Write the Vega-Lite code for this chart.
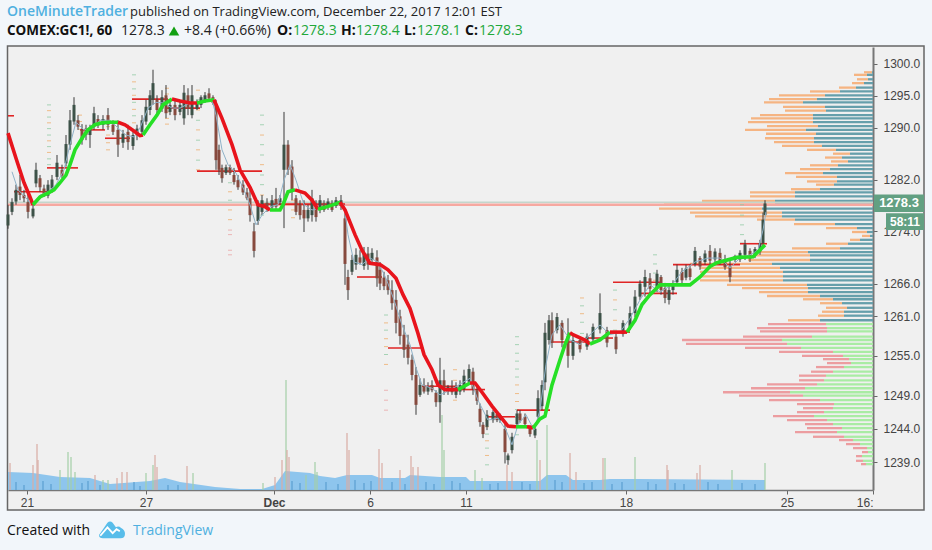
{
"$schema":"https://vega.github.io/schema/vega-lite/v6.json",
"width":865,"height":443,
"autosize":{"type":"none"},
"padding":{"left":8,"top":47,"right":59,"bottom":60},
"background":"#f0f0f0",
"config":{"view":{"stroke":null},"font":"Liberation Sans"},
"datasets":{
"one":[{"k":1}],
"levels":[{"x":8,"x2":873,"p":1278.5,"c":"g"},{"x":8,"x2":873,"p":1278.1,"c":"r"}],
"candles":[
{"x":8,"h":1278.1,"l":1274.4,"o":1274.9,"c":1276.6},{"x":12,"h":1279.1,"l":1276.5,"o":1277.0,"c":1278.5},{"x":16,"h":1281.2,"l":1278.1,"o":1278.6,"c":1280.4},{"x":20,"h":1282.7,"l":1278.8,"o":1280.9,"c":1279.6},{"x":24,"h":1280.4,"l":1278.5,"o":1279.6,"c":1279.1},{"x":28,"h":1280.1,"l":1276.0,"o":1278.5,"c":1277.0},{"x":33,"h":1278.1,"l":1276.0,"o":1276.3,"c":1277.5},{"x":36,"h":1284.6,"l":1280.8,"o":1281.4,"c":1283.5},{"x":40,"h":1282.7,"l":1280.1,"o":1282.2,"c":1280.8},{"x":44,"h":1281.2,"l":1279.3,"o":1280.6,"c":1279.6},{"x":48,"h":1281.9,"l":1279.1,"o":1279.5,"c":1281.2},{"x":52,"h":1282.7,"l":1280.1,"o":1280.6,"c":1282.0},{"x":57,"h":1285.8,"l":1281.9,"o":1282.4,"c":1284.6},{"x":62,"h":1284.3,"l":1282.2,"o":1283.5,"c":1282.6},{"x":66,"h":1288.9,"l":1284.0,"o":1284.5,"c":1287.5},{"x":70,"h":1292.8,"l":1286.6,"o":1287.4,"c":1291.2},{"x":74,"h":1294.8,"l":1290.5,"o":1291.0,"c":1293.6},{"x":78,"h":1292.0,"l":1289.7,"o":1291.2,"c":1290.2},{"x":82,"h":1290.6,"l":1287.4,"o":1289.7,"c":1288.1},{"x":86,"h":1290.5,"l":1288.1,"o":1289.9,"c":1288.9},{"x":90,"h":1290.5,"l":1286.9,"o":1288.9,"c":1289.9},{"x":94,"h":1293.3,"l":1289.7,"o":1290.2,"c":1292.3},{"x":98,"h":1292.0,"l":1290.0,"o":1291.4,"c":1290.4},{"x":103,"h":1292.0,"l":1289.7,"o":1290.5,"c":1291.4},{"x":108,"h":1293.1,"l":1289.7,"o":1292.0,"c":1290.5},{"x":113,"h":1291.2,"l":1288.9,"o":1290.5,"c":1289.4},{"x":118,"h":1291.2,"l":1285.5,"o":1289.7,"c":1287.4},{"x":123,"h":1289.7,"l":1286.9,"o":1287.7,"c":1289.1},{"x":128,"h":1290.5,"l":1286.6,"o":1289.4,"c":1287.8},{"x":133,"h":1289.7,"l":1286.6,"o":1287.2,"c":1288.9},{"x":137,"h":1290.5,"l":1288.1,"o":1288.9,"c":1289.9},{"x":142,"h":1292.0,"l":1288.9,"o":1289.4,"c":1291.2},{"x":146,"h":1294.4,"l":1290.5,"o":1291.0,"c":1293.3},{"x":150,"h":1295.9,"l":1292.0,"o":1292.8,"c":1295.1},{"x":153,"h":1299.1,"l":1293.6,"o":1294.4,"c":1297.0},{"x":157,"h":1295.1,"l":1292.0,"o":1294.4,"c":1292.8},{"x":162,"h":1295.9,"l":1292.5,"o":1293.0,"c":1294.8},{"x":166,"h":1296.7,"l":1291.5,"o":1295.1,"c":1292.3},{"x":170,"h":1294.4,"l":1292.0,"o":1292.5,"c":1293.6},{"x":175,"h":1294.4,"l":1291.2,"o":1293.6,"c":1292.0},{"x":180,"h":1294.4,"l":1292.0,"o":1292.5,"c":1293.6},{"x":184,"h":1296.7,"l":1290.5,"o":1291.5,"c":1295.5},{"x":188,"h":1296.2,"l":1292.0,"o":1295.1,"c":1293.0},{"x":192,"h":1296.7,"l":1291.5,"o":1292.0,"c":1295.1},{"x":197,"h":1294.4,"l":1292.8,"o":1293.0,"c":1294.0},{"x":201,"h":1295.1,"l":1293.1,"o":1293.6,"c":1294.8},{"x":205,"h":1295.6,"l":1293.9,"o":1294.2,"c":1295.1},{"x":209,"h":1296.2,"l":1294.4,"o":1295.4,"c":1294.6},{"x":213,"h":1295.1,"l":1293.6,"o":1294.8,"c":1293.9},{"x":216,"h":1294.4,"l":1283.5,"o":1293.6,"c":1285.0},{"x":219,"h":1287.4,"l":1282.7,"o":1286.6,"c":1283.5},{"x":222,"h":1284.3,"l":1281.5,"o":1283.8,"c":1282.2},{"x":226,"h":1284.3,"l":1282.7,"o":1283.0,"c":1283.9},{"x":230,"h":1284.3,"l":1282.7,"o":1283.9,"c":1283.0},{"x":234,"h":1283.8,"l":1281.2,"o":1282.7,"c":1281.6},{"x":238,"h":1282.7,"l":1280.4,"o":1281.9,"c":1280.8},{"x":243,"h":1281.9,"l":1279.6,"o":1281.2,"c":1280.0},{"x":247,"h":1280.7,"l":1278.8,"o":1280.0,"c":1279.1},{"x":250,"h":1280.4,"l":1275.5,"o":1279.1,"c":1276.5},{"x":254,"h":1275.3,"l":1270.0,"o":1274.0,"c":1271.0},{"x":258,"h":1278.8,"l":1275.0,"o":1275.6,"c":1278.1},{"x":262,"h":1279.6,"l":1276.5,"o":1277.0,"c":1278.8},{"x":267,"h":1279.1,"l":1277.0,"o":1278.4,"c":1277.4},{"x":272,"h":1279.6,"l":1277.3,"o":1277.7,"c":1278.8},{"x":276,"h":1280.7,"l":1277.3,"o":1279.0,"c":1277.8},{"x":280,"h":1279.6,"l":1278.1,"o":1278.5,"c":1279.1},{"x":284,"h":1292.5,"l":1274.5,"o":1283.5,"c":1287.4},{"x":288,"h":1288.1,"l":1282.7,"o":1287.4,"c":1283.5},{"x":292,"h":1285.0,"l":1278.8,"o":1284.0,"c":1280.4},{"x":296,"h":1279.6,"l":1276.5,"o":1279.1,"c":1277.0},{"x":300,"h":1278.8,"l":1275.8,"o":1278.1,"c":1276.5},{"x":304,"h":1278.8,"l":1273.9,"o":1277.3,"c":1276.0},{"x":308,"h":1278.1,"l":1275.5,"o":1276.0,"c":1277.3},{"x":312,"h":1280.4,"l":1275.5,"o":1276.5,"c":1279.1},{"x":316,"h":1278.8,"l":1275.5,"o":1277.7,"c":1276.2},{"x":320,"h":1279.6,"l":1276.8,"o":1277.3,"c":1278.8},{"x":324,"h":1278.8,"l":1277.0,"o":1278.3,"c":1277.3},{"x":328,"h":1279.1,"l":1277.3,"o":1277.7,"c":1278.6},{"x":332,"h":1278.8,"l":1277.0,"o":1278.1,"c":1277.3},{"x":336,"h":1279.3,"l":1277.6,"o":1277.9,"c":1278.8},{"x":341,"h":1279.6,"l":1277.3,"o":1277.9,"c":1278.8},{"x":345,"h":1276.8,"l":1265.8,"o":1276.0,"c":1269.0},{"x":348,"h":1268.1,"l":1263.5,"o":1267.0,"c":1265.0},{"x":352,"h":1270.4,"l":1267.3,"o":1267.8,"c":1269.6},{"x":356,"h":1271.4,"l":1268.1,"o":1268.9,"c":1270.4},{"x":360,"h":1271.1,"l":1268.9,"o":1270.0,"c":1269.2},{"x":364,"h":1271.6,"l":1268.1,"o":1268.7,"c":1270.6},{"x":368,"h":1271.6,"l":1268.1,"o":1270.6,"c":1268.9},{"x":372,"h":1271.4,"l":1269.3,"o":1269.6,"c":1270.7},{"x":377,"h":1271.1,"l":1265.5,"o":1270.0,"c":1266.8},{"x":380,"h":1269.3,"l":1265.0,"o":1268.1,"c":1266.0},{"x":384,"h":1267.8,"l":1265.0,"o":1266.9,"c":1265.6},{"x":388,"h":1267.3,"l":1264.3,"o":1266.5,"c":1265.0},{"x":392,"h":1266.5,"l":1262.0,"o":1265.0,"c":1263.0},{"x":396,"h":1265.0,"l":1258.4,"o":1263.5,"c":1260.0},{"x":400,"h":1262.0,"l":1256.7,"o":1261.0,"c":1258.0},{"x":404,"h":1259.7,"l":1254.7,"o":1258.2,"c":1255.9},{"x":408,"h":1258.2,"l":1253.7,"o":1256.7,"c":1254.7},{"x":412,"h":1255.2,"l":1251.3,"o":1254.4,"c":1252.1},{"x":416,"h":1253.3,"l":1246.1,"o":1252.1,"c":1247.6},{"x":420,"h":1251.6,"l":1248.8,"o":1249.1,"c":1250.6},{"x":424,"h":1251.6,"l":1249.3,"o":1250.6,"c":1249.6},{"x":428,"h":1251.0,"l":1249.1,"o":1249.6,"c":1250.3},{"x":432,"h":1251.3,"l":1249.5,"o":1250.6,"c":1249.8},{"x":436,"h":1249.8,"l":1247.3,"o":1249.4,"c":1248.0},{"x":440,"h":1254.7,"l":1244.9,"o":1248.0,"c":1251.3},{"x":444,"h":1252.9,"l":1249.1,"o":1251.3,"c":1249.8},{"x":448,"h":1250.6,"l":1249.1,"o":1249.6,"c":1250.3},{"x":452,"h":1251.3,"l":1249.1,"o":1250.3,"c":1249.5},{"x":456,"h":1251.0,"l":1248.6,"o":1249.1,"c":1250.4},{"x":460,"h":1251.3,"l":1249.1,"o":1249.6,"c":1250.6},{"x":464,"h":1252.9,"l":1249.5,"o":1250.0,"c":1252.0},{"x":469,"h":1253.7,"l":1250.6,"o":1251.1,"c":1253.0},{"x":473,"h":1253.2,"l":1249.1,"o":1252.6,"c":1250.0},{"x":477,"h":1250.3,"l":1247.6,"o":1249.8,"c":1248.2},{"x":480,"h":1247.8,"l":1244.3,"o":1247.0,"c":1245.0},{"x":483,"h":1245.0,"l":1242.6,"o":1244.6,"c":1243.2},{"x":487,"h":1246.8,"l":1243.8,"o":1244.3,"c":1246.1},{"x":493,"h":1246.8,"l":1244.9,"o":1245.3,"c":1246.5},{"x":497,"h":1246.5,"l":1245.0,"o":1246.2,"c":1245.3},{"x":500,"h":1246.3,"l":1244.9,"o":1245.3,"c":1246.0},{"x":505,"h":1244.9,"l":1238.8,"o":1244.0,"c":1240.5},{"x":508,"h":1240.3,"l":1238.6,"o":1239.3,"c":1240.0},{"x":512,"h":1243.4,"l":1240.3,"o":1240.8,"c":1242.8},{"x":517,"h":1246.8,"l":1244.3,"o":1244.7,"c":1246.3},{"x":520,"h":1246.8,"l":1244.9,"o":1246.3,"c":1245.3},{"x":525,"h":1246.3,"l":1244.3,"o":1245.8,"c":1244.7},{"x":530,"h":1244.3,"l":1242.8,"o":1244.0,"c":1243.2},{"x":535,"h":1244.3,"l":1242.6,"o":1243.0,"c":1244.0},{"x":538,"h":1249.8,"l":1245.3,"o":1245.8,"c":1248.6},{"x":542,"h":1251.3,"l":1246.8,"o":1247.4,"c":1250.6},{"x":545,"h":1260.0,"l":1249.8,"o":1251.0,"c":1258.5},{"x":549,"h":1261.2,"l":1256.7,"o":1257.4,"c":1260.4},{"x":552,"h":1261.6,"l":1256.2,"o":1260.4,"c":1257.0},{"x":557,"h":1261.5,"l":1258.4,"o":1258.9,"c":1260.9},{"x":562,"h":1260.4,"l":1256.3,"o":1260.0,"c":1257.4},{"x":568,"h":1260.7,"l":1253.2,"o":1258.0,"c":1255.0},{"x":573,"h":1258.4,"l":1254.4,"o":1255.0,"c":1257.4},{"x":580,"h":1257.9,"l":1255.5,"o":1257.4,"c":1256.0},{"x":587,"h":1258.4,"l":1255.9,"o":1256.4,"c":1257.9},{"x":593,"h":1259.9,"l":1257.0,"o":1257.5,"c":1259.4},{"x":600,"h":1264.5,"l":1258.4,"o":1259.0,"c":1261.5},{"x":607,"h":1259.4,"l":1256.3,"o":1258.9,"c":1257.0},{"x":616,"h":1258.4,"l":1255.3,"o":1257.9,"c":1256.0},{"x":623,"h":1260.4,"l":1257.9,"o":1258.3,"c":1260.0},{"x":630,"h":1262.5,"l":1258.9,"o":1259.4,"c":1261.5},{"x":635,"h":1265.0,"l":1260.9,"o":1261.5,"c":1264.0},{"x":640,"h":1266.5,"l":1263.5,"o":1264.0,"c":1266.0},{"x":645,"h":1268.1,"l":1264.0,"o":1265.5,"c":1267.0},{"x":650,"h":1267.6,"l":1264.3,"o":1266.8,"c":1265.2},{"x":657,"h":1268.1,"l":1264.7,"o":1265.3,"c":1267.5},{"x":661,"h":1267.3,"l":1264.3,"o":1267.0,"c":1265.0},{"x":665,"h":1266.1,"l":1263.0,"o":1265.3,"c":1263.8},{"x":669,"h":1265.8,"l":1262.8,"o":1263.5,"c":1265.0},{"x":673,"h":1266.5,"l":1264.3,"o":1265.0,"c":1266.0},{"x":677,"h":1268.9,"l":1265.8,"o":1266.2,"c":1268.1},{"x":682,"h":1268.4,"l":1265.8,"o":1267.8,"c":1266.5},{"x":686,"h":1268.9,"l":1266.5,"o":1266.9,"c":1268.3},{"x":690,"h":1268.9,"l":1266.5,"o":1268.3,"c":1267.0},{"x":695,"h":1271.6,"l":1268.6,"o":1269.0,"c":1271.0},{"x":700,"h":1270.2,"l":1268.1,"o":1269.9,"c":1268.6},{"x":705,"h":1271.1,"l":1268.9,"o":1269.3,"c":1270.6},{"x":710,"h":1271.9,"l":1268.9,"o":1271.0,"c":1269.5},{"x":715,"h":1271.4,"l":1269.3,"o":1269.7,"c":1270.9},{"x":720,"h":1271.4,"l":1268.9,"o":1270.7,"c":1269.4},{"x":725,"h":1270.4,"l":1268.1,"o":1269.5,"c":1268.5},{"x":730,"h":1269.6,"l":1266.2,"o":1268.5,"c":1267.0},{"x":735,"h":1270.4,"l":1269.3,"o":1269.6,"c":1270.2},{"x":740,"h":1271.1,"l":1269.3,"o":1269.7,"c":1270.7},{"x":745,"h":1272.7,"l":1269.6,"o":1270.4,"c":1272.0},{"x":750,"h":1271.4,"l":1269.3,"o":1271.0,"c":1269.8},{"x":755,"h":1271.6,"l":1269.9,"o":1270.3,"c":1271.3},{"x":760,"h":1272.7,"l":1270.4,"o":1270.9,"c":1272.2},{"x":763,"h":1276.9,"l":1271.6,"o":1272.2,"c":1275.8},{"x":765,"h":1278.8,"l":1276.5,"o":1276.5,"c":1278.3}
],
"trend":[
{"seg":1,"trend":"down","x":8,"p":1289.2},{"seg":1,"trend":"down","x":16,"p":1285.3},{"seg":1,"trend":"down","x":24,"p":1281.5},{"seg":1,"trend":"down","x":30,"p":1279.3},{"seg":1,"trend":"down","x":33,"p":1278.1},
{"seg":2,"trend":"up","x":33,"p":1278.1},{"seg":2,"trend":"up","x":40,"p":1279.3},{"seg":2,"trend":"up","x":48,"p":1279.9},{"seg":2,"trend":"up","x":54,"p":1280.4},{"seg":2,"trend":"up","x":60,"p":1281.5},{"seg":2,"trend":"up","x":66,"p":1282.7},{"seg":2,"trend":"up","x":70,"p":1284.3},{"seg":2,"trend":"up","x":75,"p":1286.6},{"seg":2,"trend":"up","x":82,"p":1288.4},{"seg":2,"trend":"up","x":88,"p":1289.7},{"seg":2,"trend":"up","x":95,"p":1290.5},{"seg":2,"trend":"up","x":102,"p":1290.8},{"seg":2,"trend":"up","x":110,"p":1290.9},{"seg":2,"trend":"up","x":118,"p":1290.9},
{"seg":3,"trend":"down","x":118,"p":1290.9},{"seg":3,"trend":"down","x":125,"p":1290.5},{"seg":3,"trend":"down","x":135,"p":1289.4},{"seg":3,"trend":"down","x":140,"p":1288.8},{"seg":3,"trend":"down","x":143,"p":1288.9},
{"seg":4,"trend":"up","x":143,"p":1288.9},{"seg":4,"trend":"up","x":150,"p":1290.5},{"seg":4,"trend":"up","x":157,"p":1292.0},{"seg":4,"trend":"up","x":163,"p":1293.6},{"seg":4,"trend":"up","x":172,"p":1294.5},
{"seg":5,"trend":"down","x":172,"p":1294.5},{"seg":5,"trend":"down","x":180,"p":1294.2},{"seg":5,"trend":"down","x":190,"p":1293.9},{"seg":5,"trend":"down","x":197,"p":1293.9},
{"seg":6,"trend":"up","x":197,"p":1293.9},{"seg":6,"trend":"up","x":205,"p":1294.2},{"seg":6,"trend":"up","x":214,"p":1294.4},
{"seg":7,"trend":"down","x":214,"p":1294.4},{"seg":7,"trend":"down","x":222,"p":1291.5},{"seg":7,"trend":"down","x":232,"p":1287.4},{"seg":7,"trend":"down","x":240,"p":1283.5},{"seg":7,"trend":"down","x":250,"p":1280.8},{"seg":7,"trend":"down","x":258,"p":1278.1},{"seg":7,"trend":"down","x":265,"p":1277.8},{"seg":7,"trend":"down","x":270,"p":1277.3},
{"seg":8,"trend":"up","x":270,"p":1277.3},{"seg":8,"trend":"up","x":280,"p":1277.3},{"seg":8,"trend":"up","x":283,"p":1278.1},{"seg":8,"trend":"up","x":288,"p":1280.1},{"seg":8,"trend":"up","x":295,"p":1280.4},
{"seg":9,"trend":"down","x":295,"p":1280.4},{"seg":9,"trend":"down","x":305,"p":1279.9},{"seg":9,"trend":"down","x":312,"p":1278.8},{"seg":9,"trend":"down","x":318,"p":1277.4},
{"seg":10,"trend":"up","x":318,"p":1277.4},{"seg":10,"trend":"up","x":325,"p":1277.7},{"seg":10,"trend":"up","x":335,"p":1278.2},{"seg":10,"trend":"up","x":340,"p":1278.5},
{"seg":11,"trend":"down","x":340,"p":1278.5},{"seg":11,"trend":"down","x":345,"p":1277.3},{"seg":11,"trend":"down","x":355,"p":1273.5},{"seg":11,"trend":"down","x":362,"p":1271.1},{"seg":11,"trend":"down","x":370,"p":1269.1},{"seg":11,"trend":"down","x":380,"p":1268.9},{"seg":11,"trend":"down","x":388,"p":1268.1},{"seg":11,"trend":"down","x":396,"p":1266.8},{"seg":11,"trend":"down","x":403,"p":1264.3},{"seg":11,"trend":"down","x":410,"p":1262.2},{"seg":11,"trend":"down","x":418,"p":1258.4},{"seg":11,"trend":"down","x":424,"p":1255.2},{"seg":11,"trend":"down","x":432,"p":1252.9},{"seg":11,"trend":"down","x":438,"p":1250.6},{"seg":11,"trend":"down","x":445,"p":1249.9},{"seg":11,"trend":"down","x":458,"p":1249.9},
{"seg":12,"trend":"up","x":458,"p":1249.9},{"seg":12,"trend":"up","x":470,"p":1250.9},
{"seg":13,"trend":"down","x":470,"p":1250.9},{"seg":13,"trend":"down","x":475,"p":1250.9},{"seg":13,"trend":"down","x":482,"p":1249.5},{"seg":13,"trend":"down","x":492,"p":1247.4},{"seg":13,"trend":"down","x":500,"p":1245.9},{"seg":13,"trend":"down","x":508,"p":1244.4},{"seg":13,"trend":"down","x":516,"p":1244.3},
{"seg":14,"trend":"up","x":516,"p":1244.3},{"seg":14,"trend":"up","x":527,"p":1244.3},
{"seg":15,"trend":"down","x":527,"p":1244.3},{"seg":15,"trend":"down","x":533,"p":1244.1},
{"seg":16,"trend":"up","x":533,"p":1244.1},{"seg":16,"trend":"up","x":540,"p":1245.5},{"seg":16,"trend":"up","x":545,"p":1245.9},{"seg":16,"trend":"up","x":552,"p":1250.6},{"seg":16,"trend":"up","x":560,"p":1254.4},{"seg":16,"trend":"up","x":565,"p":1256.7},{"seg":16,"trend":"up","x":570,"p":1258.5},
{"seg":17,"trend":"down","x":570,"p":1258.5},{"seg":17,"trend":"down","x":573,"p":1258.2},{"seg":17,"trend":"down","x":585,"p":1257.4},{"seg":17,"trend":"down","x":590,"p":1256.8},
{"seg":18,"trend":"up","x":590,"p":1256.8},{"seg":18,"trend":"up","x":600,"p":1257.4},{"seg":18,"trend":"up","x":610,"p":1258.6},
{"seg":19,"trend":"down","x":610,"p":1258.6},{"seg":19,"trend":"down","x":627,"p":1258.6},
{"seg":20,"trend":"up","x":627,"p":1258.6},{"seg":20,"trend":"up","x":635,"p":1260.4},{"seg":20,"trend":"up","x":642,"p":1262.8},{"seg":20,"trend":"up","x":650,"p":1264.3},{"seg":20,"trend":"up","x":660,"p":1265.8},{"seg":20,"trend":"up","x":690,"p":1265.8},{"seg":20,"trend":"up","x":700,"p":1267.0},{"seg":20,"trend":"up","x":710,"p":1268.6},{"seg":20,"trend":"up","x":717,"p":1269.2},{"seg":20,"trend":"up","x":737,"p":1270.0},{"seg":20,"trend":"up","x":753,"p":1270.1},{"seg":20,"trend":"up","x":765,"p":1271.9}
],
"ma":[
{"x":12,"p":1283.2},{"x":18,"p":1280.4},{"x":24,"p":1279.5},{"x":32,"p":1278.1},{"x":40,"p":1279.6},{"x":48,"p":1280.1},{"x":56,"p":1281.2},{"x":64,"p":1283.5},{"x":70,"p":1287.4},{"x":76,"p":1290.9},{"x":84,"p":1289.7},{"x":92,"p":1290.0},{"x":100,"p":1291.2},{"x":110,"p":1291.2},{"x":118,"p":1290.0},{"x":126,"p":1288.9},{"x":134,"p":1288.6},{"x":140,"p":1290.0},{"x":148,"p":1293.1},{"x":156,"p":1294.0},{"x":164,"p":1293.9},{"x":172,"p":1293.1},{"x":180,"p":1293.1},{"x":190,"p":1293.9},{"x":200,"p":1293.9},{"x":212,"p":1294.4},{"x":216,"p":1292.0},{"x":222,"p":1286.6},{"x":228,"p":1284.3},{"x":236,"p":1283.0},{"x":244,"p":1280.4},{"x":250,"p":1278.1},{"x":256,"p":1275.0},{"x":262,"p":1276.5},{"x":270,"p":1277.8},{"x":278,"p":1278.1},{"x":284,"p":1281.9},{"x":290,"p":1284.3},{"x":296,"p":1281.9},{"x":304,"p":1278.1},{"x":312,"p":1277.3},{"x":322,"p":1277.6},{"x":335,"p":1278.2},{"x":344,"p":1278.1},{"x":348,"p":1273.5},{"x":354,"p":1269.3},{"x":362,"p":1268.9},{"x":370,"p":1269.9},{"x":378,"p":1269.3},{"x":386,"p":1266.8},{"x":394,"p":1263.5},{"x":402,"p":1259.7},{"x":410,"p":1256.7},{"x":416,"p":1253.2},{"x":422,"p":1250.6},{"x":432,"p":1250.1},{"x":440,"p":1249.1},{"x":450,"p":1249.8},{"x":462,"p":1250.9},{"x":470,"p":1251.6},{"x":478,"p":1248.3},{"x":488,"p":1245.3},{"x":498,"p":1245.6},{"x":506,"p":1243.8},{"x":512,"p":1241.6},{"x":518,"p":1244.6},{"x":526,"p":1246.1},{"x":534,"p":1243.8},{"x":540,"p":1246.8},{"x":546,"p":1253.7},{"x":552,"p":1258.2},{"x":560,"p":1259.7},{"x":570,"p":1257.4},{"x":580,"p":1256.7},{"x":590,"p":1258.2},{"x":600,"p":1259.7},{"x":610,"p":1258.2},{"x":620,"p":1258.6},{"x":630,"p":1260.7},{"x":640,"p":1263.5},{"x":650,"p":1265.8},{"x":660,"p":1264.7},{"x":672,"p":1265.8},{"x":682,"p":1267.8},{"x":695,"p":1269.3},{"x":708,"p":1269.9},{"x":720,"p":1269.9},{"x":730,"p":1268.4},{"x":740,"p":1269.9},{"x":750,"p":1270.4},{"x":758,"p":1271.1},{"x":763,"p":1274.2},{"x":766,"p":1277.0}
],
"poc":[
{"x":8,"x2":14,"p":1291.9},{"x":14,"x2":53,"p":1280.1},{"x":47,"x2":78,"p":1283.8},{"x":80,"x2":105,"p":1289.7},{"x":105,"x2":130,"p":1288.4},{"x":132,"x2":168,"p":1294.5},{"x":165,"x2":200,"p":1293.1},{"x":197,"x2":262,"p":1283.3},{"x":262,"x2":345,"p":1278.2},{"x":357,"x2":382,"p":1267.0},{"x":388,"x2":422,"p":1256.2},{"x":422,"x2":457,"p":1250.4},{"x":457,"x2":485,"p":1249.9},{"x":487,"x2":515,"p":1245.8},{"x":517,"x2":550,"p":1246.8},{"x":513,"x2":533,"p":1244.4},{"x":550,"x2":587,"p":1257.1},{"x":587,"x2":613,"p":1257.7},{"x":610,"x2":630,"p":1258.6},{"x":613,"x2":662,"p":1266.2},{"x":640,"x2":677,"p":1264.5},{"x":673,"x2":740,"p":1268.9},{"x":740,"x2":767,"p":1272.1}
],
"profile":[
{"p":1298.7,"a":864,"b":872},{"p":1298.3,"a":854,"b":867},{"p":1297.6,"a":857,"b":868},{"p":1297.0,"a":852,"b":864},{"p":1296.3,"a":839,"b":856},{"p":1295.7,"a":810,"b":840},{"p":1295.1,"a":779,"b":825},{"p":1294.5,"a":769,"b":817},{"p":1294.0,"a":764,"b":803},{"p":1293.3,"a":783,"b":825},{"p":1292.7,"a":785,"b":826},{"p":1292.0,"a":760,"b":813},{"p":1291.5,"a":751,"b":813},{"p":1290.9,"a":748,"b":813},{"p":1290.3,"a":767,"b":818},{"p":1289.7,"a":745,"b":806},{"p":1289.1,"a":766,"b":816},{"p":1288.4,"a":765,"b":814},{"p":1287.8,"a":774,"b":814},{"p":1287.2,"a":782,"b":822},{"p":1286.6,"a":807,"b":836},{"p":1286.0,"a":833,"b":850},{"p":1285.4,"a":825,"b":842},{"p":1284.8,"a":831,"b":848},{"p":1284.2,"a":810,"b":838},{"p":1283.6,"a":800,"b":830},{"p":1283.0,"a":785,"b":823},{"p":1282.4,"a":796,"b":837},{"p":1281.7,"a":807,"b":837},{"p":1281.2,"a":816,"b":834},{"p":1280.5,"a":791,"b":820},{"p":1280.0,"a":750,"b":795},{"p":1279.4,"a":750,"b":795},{"p":1278.7,"a":702,"b":775},{"p":1278.1,"a":664,"b":775},{"p":1277.5,"a":659,"b":762},{"p":1276.9,"a":690,"b":782},{"p":1276.3,"a":695,"b":782},{"p":1275.8,"a":757,"b":795},{"p":1275.1,"a":794,"b":835},{"p":1274.5,"a":826,"b":857},{"p":1273.9,"a":852,"b":867},{"p":1273.3,"a":862,"b":870},{"p":1272.7,"a":850,"b":860},{"p":1272.1,"a":826,"b":848},{"p":1271.4,"a":792,"b":840},{"p":1270.8,"a":755,"b":808},{"p":1270.3,"a":755,"b":810},{"p":1269.6,"a":748,"b":810},{"p":1269.0,"a":690,"b":772},{"p":1268.4,"a":700,"b":780},{"p":1267.8,"a":700,"b":783},{"p":1267.1,"a":700,"b":783},{"p":1266.5,"a":700,"b":783},{"p":1265.8,"a":727,"b":807},{"p":1265.3,"a":742,"b":808},{"p":1264.7,"a":759,"b":808},{"p":1264.1,"a":767,"b":820},{"p":1263.6,"a":803,"b":833},{"p":1263.0,"a":820,"b":842},{"p":1262.3,"a":826,"b":847},{"p":1261.7,"a":822,"b":844},{"p":1261.1,"a":818,"b":844},{"p":1260.4,"a":788,"b":820},{"p":1259.8,"a":768,"b":826},
{"p":1259.2,"a":757,"b":827},{"p":1258.7,"a":760,"b":827},{"p":1257.9,"a":743,"b":812},{"p":1257.4,"a":682,"b":782},{"p":1256.8,"a":686,"b":787},{"p":1256.2,"a":745,"b":801},{"p":1255.6,"a":779,"b":833},{"p":1255.0,"a":802,"b":843},{"p":1254.5,"a":823,"b":849},{"p":1253.9,"a":827,"b":851},{"p":1253.3,"a":816,"b":844},{"p":1252.6,"a":811,"b":833},{"p":1252.0,"a":799,"b":826},{"p":1251.3,"a":799,"b":824},{"p":1250.7,"a":767,"b":817},{"p":1250.1,"a":751,"b":805},{"p":1249.5,"a":723,"b":790},{"p":1249.0,"a":739,"b":803},{"p":1248.3,"a":769,"b":820},{"p":1247.7,"a":797,"b":834},{"p":1247.1,"a":803,"b":833},{"p":1246.5,"a":797,"b":824},{"p":1245.9,"a":773,"b":814},{"p":1245.3,"a":787,"b":827},{"p":1244.7,"a":805,"b":833},{"p":1244.1,"a":807,"b":842},{"p":1243.5,"a":795,"b":837},{"p":1242.8,"a":813,"b":844},{"p":1242.3,"a":839,"b":853},{"p":1241.7,"a":846,"b":860},{"p":1241.1,"a":853,"b":867},{"p":1240.5,"a":862,"b":868},{"p":1239.9,"a":856,"b":862},{"p":1239.2,"a":856,"b":863},{"p":1238.7,"a":861,"b":866}
],
"dashes":[
{"x":49,"p":1293.6,"s":"g"},{"x":49,"p":1292.7,"s":"o"},{"x":49,"p":1291.7,"s":"g"},{"x":49,"p":1290.8,"s":"o"},{"x":49,"p":1289.9,"s":"g"},{"x":49,"p":1288.9,"s":"g"},{"x":49,"p":1288.0,"s":"o"},{"x":49,"p":1287.1,"s":"g"},{"x":49,"p":1286.2,"s":"o"},{"x":49,"p":1285.2,"s":"g"},{"x":49,"p":1284.3,"s":"g"},
{"x":134,"p":1298.3,"s":"g"},{"x":134,"p":1297.2,"s":"o"},{"x":134,"p":1296.1,"s":"g"},{"x":134,"p":1295.1,"s":"o"},{"x":134,"p":1294.0,"s":"g"},{"x":134,"p":1292.9,"s":"o"},{"x":134,"p":1291.9,"s":"g"},{"x":134,"p":1290.8,"s":"o"},
{"x":167,"p":1296.2,"s":"o"},{"x":167,"p":1295.3,"s":"o"},{"x":167,"p":1294.4,"s":"o"},{"x":167,"p":1293.4,"s":"o"},{"x":167,"p":1292.5,"s":"o"},{"x":167,"p":1291.5,"s":"o"},{"x":167,"p":1290.6,"s":"o"},
{"x":198,"p":1295.9,"s":"o"},{"x":198,"p":1294.4,"s":"g"},{"x":198,"p":1292.8,"s":"o"},{"x":198,"p":1291.2,"s":"g"},{"x":198,"p":1289.7,"s":"o"},{"x":198,"p":1288.1,"s":"g"},{"x":198,"p":1286.6,"s":"o"},{"x":198,"p":1285.0,"s":"g"},{"x":198,"p":1283.5,"s":"o"},
{"x":108,"p":1290.2,"s":"o"},{"x":108,"p":1288.9,"s":"o"},{"x":108,"p":1287.7,"s":"o"},{"x":108,"p":1286.6,"s":"o"},{"x":80,"p":1292.0,"s":"o"},{"x":80,"p":1291.0,"s":"o"},{"x":80,"p":1289.8,"s":"o"},
{"x":262,"p":1292.0,"s":"g"},{"x":262,"p":1290.5,"s":"g"},{"x":262,"p":1288.9,"s":"o"},{"x":262,"p":1287.4,"s":"g"},{"x":262,"p":1285.8,"s":"g"},{"x":262,"p":1284.3,"s":"o"},{"x":262,"p":1282.7,"s":"g"},{"x":262,"p":1281.2,"s":"g"},{"x":262,"p":1279.6,"s":"o"},{"x":262,"p":1278.1,"s":"g"},{"x":262,"p":1276.5,"s":"g"},
{"x":230,"p":1281.5,"s":"g"},{"x":230,"p":1280.1,"s":"o"},{"x":230,"p":1278.8,"s":"g"},{"x":230,"p":1277.3,"s":"o"},{"x":230,"p":1275.8,"s":"o"},{"x":230,"p":1274.2,"s":"r"},{"x":230,"p":1273.5,"s":"r"},{"x":230,"p":1271.1,"s":"r"},{"x":230,"p":1270.4,"s":"r"},
{"x":293,"p":1278.8,"s":"o"},{"x":293,"p":1277.3,"s":"o"},{"x":293,"p":1276.1,"s":"o"},
{"x":386,"p":1261.2,"s":"g"},{"x":386,"p":1260.0,"s":"o"},{"x":386,"p":1258.9,"s":"g"},{"x":386,"p":1257.6,"s":"o"},{"x":386,"p":1256.4,"s":"o"},{"x":386,"p":1255.2,"s":"g"},{"x":386,"p":1253.7,"s":"o"},{"x":386,"p":1249.8,"s":"r"},{"x":386,"p":1248.3,"s":"r"},{"x":386,"p":1246.8,"s":"r"},
{"x":455,"p":1252.9,"s":"o"},{"x":455,"p":1251.3,"s":"o"},{"x":455,"p":1249.8,"s":"o"},{"x":455,"p":1248.3,"s":"o"},
{"x":487,"p":1245.3,"s":"o"},{"x":487,"p":1244.3,"s":"o"},{"x":487,"p":1243.2,"s":"g"},{"x":487,"p":1242.2,"s":"o"},{"x":487,"p":1241.1,"s":"g"},{"x":487,"p":1240.0,"s":"o"},{"x":487,"p":1238.6,"s":"g"},
{"x":517,"p":1257.9,"s":"g"},{"x":517,"p":1256.7,"s":"g"},{"x":517,"p":1255.4,"s":"g"},{"x":517,"p":1254.2,"s":"g"},{"x":517,"p":1253.0,"s":"g"},{"x":517,"p":1251.8,"s":"g"},{"x":517,"p":1250.6,"s":"o"},{"x":517,"p":1249.3,"s":"o"},{"x":517,"p":1248.1,"s":"o"},{"x":517,"p":1246.9,"s":"g"},{"x":517,"p":1245.7,"s":"g"},{"x":517,"p":1244.5,"s":"g"},{"x":517,"p":1243.1,"s":"g"},
{"x":582,"p":1263.8,"s":"o"},{"x":582,"p":1262.6,"s":"g"},{"x":582,"p":1261.4,"s":"o"},{"x":582,"p":1260.1,"s":"g"},{"x":582,"p":1258.4,"s":"g"},
{"x":615,"p":1265.0,"s":"g"},{"x":615,"p":1263.5,"s":"o"},{"x":615,"p":1262.0,"s":"g"},{"x":615,"p":1260.4,"s":"o"},{"x":615,"p":1258.9,"s":"g"},
{"x":655,"p":1270.4,"s":"g"},{"x":655,"p":1269.0,"s":"g"},{"x":655,"p":1267.6,"s":"g"},{"x":655,"p":1266.5,"s":"o"},{"x":655,"p":1265.8,"s":"g"},
{"x":742,"p":1278.1,"s":"g"},{"x":742,"p":1276.5,"s":"g"},{"x":742,"p":1275.0,"s":"g"},{"x":742,"p":1273.5,"s":"g"},{"x":742,"p":1272.2,"s":"g"}
],
"average":[
{"x":8,"v":18},{"x":33,"v":17},{"x":60,"v":13},{"x":90,"v":12},{"x":110,"v":6},{"x":150,"v":9},{"x":165,"v":12},{"x":180,"v":8},{"x":215,"v":3},{"x":240,"v":1},{"x":262,"v":1},{"x":275,"v":5},{"x":285,"v":19},{"x":310,"v":17},{"x":320,"v":14},{"x":335,"v":12},{"x":347,"v":15},{"x":372,"v":15},{"x":380,"v":12},{"x":405,"v":12},{"x":410,"v":15},{"x":440,"v":13},{"x":466,"v":13},{"x":470,"v":9},{"x":540,"v":9},{"x":547,"v":15},{"x":566,"v":15},{"x":573,"v":10},{"x":600,"v":10},{"x":610,"v":11},{"x":640,"v":11},{"x":765,"v":10}
],
"volume":[
{"x":10,"v":27,"s":"d"},{"x":33,"v":25,"s":"d"},{"x":37,"v":46,"s":"d"},{"x":38,"v":30,"s":"d"},{"x":60,"v":20,"s":"u"},{"x":68,"v":38,"s":"u"},{"x":71,"v":33,"s":"u"},{"x":75,"v":18,"s":"u"},{"x":95,"v":15,"s":"d"},{"x":103,"v":10,"s":"u"},{"x":108,"v":10,"s":"u"},{"x":117,"v":12,"s":"d"},{"x":122,"v":18,"s":"d"},{"x":127,"v":18,"s":"d"},{"x":146,"v":17,"s":"u"},{"x":153,"v":25,"s":"u"},{"x":155,"v":35,"s":"d"},{"x":157,"v":23,"s":"d"},{"x":187,"v":24,"s":"d"},{"x":193,"v":17,"s":"u"},{"x":263,"v":7,"s":"u"},{"x":275,"v":13,"s":"d"},{"x":282,"v":30,"s":"d"},{"x":286,"v":110,"s":"u"},{"x":287,"v":40,"s":"d"},{"x":289,"v":33,"s":"d"},{"x":306,"v":15,"s":"u"},{"x":315,"v":28,"s":"u"},{"x":317,"v":18,"s":"u"},{"x":347,"v":57,"s":"d"},{"x":349,"v":40,"s":"d"},{"x":379,"v":41,"s":"d"},{"x":382,"v":27,"s":"d"},{"x":400,"v":20,"s":"d"},{"x":411,"v":34,"s":"d"},{"x":413,"v":23,"s":"d"},{"x":418,"v":23,"s":"d"},{"x":442,"v":75,"s":"u"},{"x":444,"v":40,"s":"u"},{"x":475,"v":20,"s":"u"},{"x":482,"v":12,"s":"u"},{"x":507,"v":25,"s":"d"},{"x":512,"v":18,"s":"d"},{"x":537,"v":50,"s":"u"},{"x":540,"v":30,"s":"d"},{"x":547,"v":65,"s":"u"},{"x":570,"v":37,"s":"d"},{"x":576,"v":18,"s":"d"},{"x":603,"v":32,"s":"d"},{"x":605,"v":32,"s":"u"},{"x":635,"v":33,"s":"u"},{"x":667,"v":25,"s":"d"},{"x":668,"v":20,"s":"d"},{"x":697,"v":17,"s":"d"},{"x":700,"v":25,"s":"d"},{"x":732,"v":20,"s":"u"},{"x":765,"v":27,"s":"u"},
{"x":16,"v":8,"s":"l"},{"x":24,"v":5,"s":"l"},{"x":43,"v":9,"s":"l"},{"x":51,"v":6,"s":"l"},{"x":82,"v":7,"s":"l"},{"x":88,"v":9,"s":"l"},{"x":100,"v":5,"s":"l"},{"x":134,"v":8,"s":"l"},{"x":140,"v":4,"s":"l"},{"x":168,"v":5,"s":"l"},{"x":178,"v":5,"s":"l"},{"x":292,"v":9,"s":"l"},{"x":300,"v":7,"s":"l"},{"x":326,"v":8,"s":"l"},{"x":338,"v":6,"s":"l"},{"x":355,"v":10,"s":"l"},{"x":364,"v":7,"s":"l"},{"x":371,"v":9,"s":"l"},{"x":392,"v":8,"s":"l"},{"x":405,"v":6,"s":"l"},{"x":426,"v":8,"s":"l"},{"x":434,"v":6,"s":"l"},{"x":452,"v":9,"s":"l"},{"x":460,"v":7,"s":"l"},{"x":490,"v":6,"s":"l"},{"x":498,"v":7,"s":"l"},{"x":522,"v":8,"s":"l"},{"x":530,"v":6,"s":"l"},{"x":555,"v":10,"s":"l"},{"x":562,"v":8,"s":"l"},{"x":584,"v":7,"s":"l"},{"x":592,"v":8,"s":"l"},{"x":612,"v":6,"s":"l"},{"x":622,"v":8,"s":"l"},{"x":648,"v":8,"s":"l"},{"x":656,"v":6,"s":"l"},{"x":675,"v":7,"s":"l"},{"x":684,"v":6,"s":"l"},{"x":708,"v":8,"s":"l"},{"x":718,"v":6,"s":"l"},{"x":742,"v":7,"s":"l"},{"x":755,"v":6,"s":"l"}
]
},
"layer":[
{"layer":[
{"data":{"name":"one"},"mark":{"type":"rect","fill":"#f2f6fa"},"encoding":{"x":{"datum":-5},"x2":{"datum":940},"y":{"datum":1320},"y2":{"datum":1302.83}}},
{"data":{"name":"one"},"mark":{"type":"rect","fill":"#f2f6fa"},"encoding":{"x":{"datum":-5},"x2":{"datum":940},"y":{"datum":1231.87},"y2":{"datum":1215}}},
{"data":{"name":"one"},"mark":{"type":"rect","fill":"#f2f6fa"},"encoding":{"x":{"datum":-5},"x2":{"datum":7.5},"y":{"datum":1320},"y2":{"datum":1215}}},
{"data":{"name":"one"},"mark":{"type":"rect","fill":"#f2f6fa"},"encoding":{"x":{"datum":924},"x2":{"datum":940},"y":{"datum":1320},"y2":{"datum":1215}}},
{"data":{"name":"one"},"mark":{"type":"rect","fill":"transparent","stroke":"#666666","strokeWidth":1.5},"encoding":{"x":{"datum":7.5},"x2":{"datum":924},"y":{"datum":1302.83},"y2":{"datum":1231.87}}},
{"encoding":{
"x":{"field":"x","type":"quantitative","title":null,"scale":{"domain":[8,873],"nice":false,"zero":false,"padding":0},
"axis":{"values":[27,146,274,370,466,626,787,873],"labelExpr":"datum.value==27?'21':datum.value==146?'27':datum.value==274?'Dec':datum.value==370?'6':datum.value==466?'11':datum.value==626?'18':datum.value==787?'25':'16:'","labelFlush":true,"labelFontWeight":{"condition":{"test":"datum.value==274","value":"bold"},"value":"normal"},"labelFontSize":12,"labelColor":"#444444","labelPadding":3,"tickSize":4,"tickColor":"#666666","domainColor":"#777777","domainWidth":1.5,"grid":false}},
"y":{"field":"p","type":"quantitative","title":null,"scale":{"type":"log","domain":[1234.84,1302.67],"nice":false,"zero":false},
"axis":{"orient":"right","values":[1239,1244,1249,1255,1261,1266,1274,1282,1290,1295,1300],"format":".1f","labelFontSize":12,"labelColor":"#444444","labelPadding":6,"tickSize":4,"tickColor":"#666666","domainColor":"#777777","domainWidth":2,"grid":false}}},
"layer":[
{"data":{"name":"profile"},"mark":{"type":"rule","strokeWidth":2.3},"encoding":{"x":{"field":"a"},"x2":{"field":"b"},"color":{"condition":{"test":"datum.p>1260","value":"#f5b482"},"value":"#ec9da0"}}},
{"data":{"name":"profile"},"mark":{"type":"rule","strokeWidth":2.3},"encoding":{"x":{"field":"b"},"x2":{"datum":873},"color":{"condition":{"test":"datum.p>1260","value":"#669fab"},"value":"#a9eca4"}}},
{"data":{"name":"levels"},"mark":{"type":"rule"},"encoding":{"x2":{"field":"x2"},"strokeWidth":{"condition":{"test":"datum.c=='g'","value":1.5},"value":2.5},"color":{"condition":{"test":"datum.c=='g'","value":"#c4d6cc"},"value":"#f6a8a0"}}},
{"data":{"name":"dashes"},"mark":{"type":"tick","orient":"horizontal","size":4,"thickness":1,"opacity":0.75},"encoding":{"color":{"condition":[{"test":"datum.s=='g'","value":"#8cc8a0"},{"test":"datum.s=='r'","value":"#e8a0a0"}],"value":"#eeaa66"}}},
{"data":{"name":"poc"},"mark":{"type":"rule","strokeWidth":1.6,"color":"#e02525"},"encoding":{"x2":{"field":"x2"}}},
{"data":{"name":"candles"},"mark":{"type":"rule","strokeWidth":1,"color":"#3a3a3a"},"encoding":{"y":{"field":"h"},"y2":{"field":"l"}}},
{"data":{"name":"candles"},"mark":{"type":"bar","size":3},"encoding":{"y":{"field":"o"},"y2":{"field":"c"},"color":{"condition":{"test":"datum.c>=datum.o","value":"#3d5248"},"value":"#874a3e"}}},
{"data":{"name":"ma"},"mark":{"type":"line","strokeWidth":1,"color":"#8fb2c8"}},
{"data":{"name":"trend"},"mark":{"type":"line","strokeWidth":3.6},"encoding":{"detail":{"field":"seg"},"color":{"condition":{"test":"datum.trend=='up'","value":"#26e026"},"value":"#e8141c"}}}
]},
{"data":{"name":"one"},"layer":[
{"mark":{"type":"rect","fill":"#62a082"},"encoding":{"x":{"datum":874},"x2":{"datum":924},"y":{"datum":1279.7},"y2":{"datum":1277.0}}},
{"mark":{"type":"rect","fill":"#62a082"},"encoding":{"x":{"datum":886},"x2":{"datum":924},"y":{"datum":1276.8},"y2":{"datum":1274.2}}},
{"mark":{"type":"text","text":"1278.3","align":"center","baseline":"middle","fontSize":13,"fontWeight":"bold","color":"#ffffff"},"encoding":{"x":{"datum":899},"y":{"datum":1278.3}}},
{"mark":{"type":"text","text":"58:11","align":"center","baseline":"middle","fontSize":12,"fontWeight":"bold","color":"#ffffff"},"encoding":{"x":{"datum":905},"y":{"datum":1275.5}}},
{"mark":{"type":"text","text":"OneMinuteTrader","align":"left","baseline":"middle","font":"Open Sans","fontSize":14,"fontWeight":600,"color":"#4fb0e0"},"encoding":{"x":{"datum":7},"y":{"datum":1308.2}}},
{"mark":{"type":"text","text":"published on TradingView.com, December 22, 2017 12:01 EST","align":"left","baseline":"middle","font":"Open Sans","fontSize":13,"color":"#222222"},"encoding":{"x":{"datum":130},"y":{"datum":1308.2}}},
{"mark":{"type":"text","text":"COMEX:GC1!, 60","align":"left","baseline":"middle","font":"Open Sans","fontSize":13.5,"fontWeight":700,"color":"#111111"},"encoding":{"x":{"datum":7},"y":{"datum":1305.2}}},
{"mark":{"type":"text","text":"1278.3","align":"left","baseline":"middle","font":"Open Sans","fontSize":14,"color":"#222222"},"encoding":{"x":{"datum":121},"y":{"datum":1305.2}}},
{"mark":{"type":"point","shape":"triangle-up","filled":true,"size":110,"color":"#12a012","opacity":1},"encoding":{"x":{"datum":174},"y":{"datum":1305.2}}},
{"mark":{"type":"text","text":"+8.4 (+0.66%)","align":"left","baseline":"middle","font":"Open Sans","fontSize":14,"color":"#222222"},"encoding":{"x":{"datum":184},"y":{"datum":1305.2}}},
{"mark":{"type":"text","text":"O:","align":"left","baseline":"middle","font":"Open Sans","fontSize":14,"fontWeight":700,"color":"#111111"},"encoding":{"x":{"datum":277},"y":{"datum":1305.2}}},
{"mark":{"type":"text","text":"1278.3","align":"left","baseline":"middle","font":"Open Sans","fontSize":14,"color":"#22a83a"},"encoding":{"x":{"datum":293},"y":{"datum":1305.2}}},
{"mark":{"type":"text","text":"H:","align":"left","baseline":"middle","font":"Open Sans","fontSize":14,"fontWeight":700,"color":"#111111"},"encoding":{"x":{"datum":341},"y":{"datum":1305.2}}},
{"mark":{"type":"text","text":"1278.4","align":"left","baseline":"middle","font":"Open Sans","fontSize":14,"color":"#22a83a"},"encoding":{"x":{"datum":356},"y":{"datum":1305.2}}},
{"mark":{"type":"text","text":"L:","align":"left","baseline":"middle","font":"Open Sans","fontSize":14,"fontWeight":700,"color":"#111111"},"encoding":{"x":{"datum":404},"y":{"datum":1305.2}}},
{"mark":{"type":"text","text":"1278.1","align":"left","baseline":"middle","font":"Open Sans","fontSize":14,"color":"#22a83a"},"encoding":{"x":{"datum":417},"y":{"datum":1305.2}}},
{"mark":{"type":"text","text":"C:","align":"left","baseline":"middle","font":"Open Sans","fontSize":14,"fontWeight":700,"color":"#111111"},"encoding":{"x":{"datum":465},"y":{"datum":1305.2}}},
{"mark":{"type":"text","text":"1278.3","align":"left","baseline":"middle","font":"Open Sans","fontSize":14,"color":"#22a83a"},"encoding":{"x":{"datum":479},"y":{"datum":1305.2}}},
{"mark":{"type":"text","text":"Created with","align":"left","baseline":"middle","font":"Open Sans","fontSize":14,"color":"#111111"},"encoding":{"x":{"datum":7},"y":{"datum":1228.75}}},
{"mark":{"type":"point","shape":"M-1 0.5 L-0.35 -0.45 Q-0.15 -0.65 0.05 -0.45 L0.3 -0.1 Q0.5 -0.25 0.7 -0.05 Q1 0.1 1 0.4 Q1 0.75 0.65 0.75 L-0.7 0.75 Q-1 0.75 -1 0.5 Z","filled":true,"size":676,"color":"#58bdea","opacity":1},"encoding":{"x":{"datum":112},"y":{"datum":1229.1}}},
{"mark":{"type":"point","shape":"M-0.9 0.55 L-0.35 -0.1 L0.05 0.35 L0.35 0.05 L0.6 0.2","filled":false,"size":676,"color":"#ffffff","strokeWidth":1.8,"opacity":1},"encoding":{"x":{"datum":112},"y":{"datum":1229.1}}},
{"mark":{"type":"text","text":"TradingView","align":"left","baseline":"middle","font":"Open Sans","fontSize":14,"color":"#4fb0e0"},"encoding":{"x":{"datum":133},"y":{"datum":1228.75}}}
]}
]},
{"encoding":{"x":{"field":"x","type":"quantitative","title":null},"y":{"field":"v","type":"quantitative","title":null,"axis":null,"scale":{"domain":[0,443],"nice":false}}},
"layer":[
{"data":{"name":"average"},"mark":{"type":"area","color":"#7dbdec","opacity":0.85}},
{"data":{"name":"volume"},"mark":{"type":"rule","strokeWidth":2,"opacity":0.6},"encoding":{"y2":{"datum":0},"color":{"condition":[{"test":"datum.s=='u'","value":"#a3cfa6"},{"test":"datum.s=='d'","value":"#d9aba3"}],"value":"#5a9fd0"}}}
]}
],
"resolve":{"scale":{"y":"independent"}}
}
